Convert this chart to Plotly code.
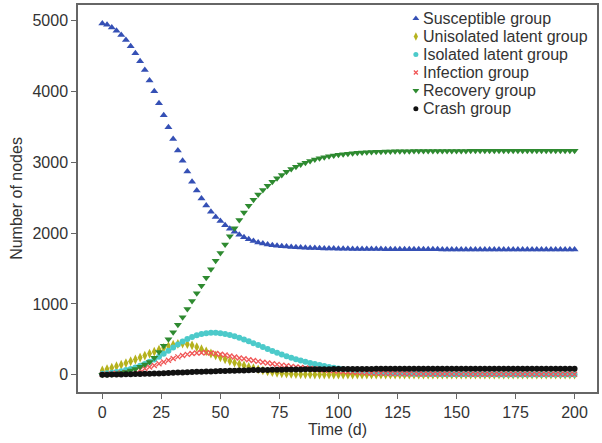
import plotly.graph_objects as go

t = list(range(0, 201, 2))

susceptible = [
    4960, 4942, 4904, 4858, 4797, 4727, 4637, 4538, 4426, 4304,
    4154, 4003, 3834, 3665, 3496, 3327, 3168, 3020, 2870, 2725,
    2600, 2488, 2390, 2300, 2228, 2170, 2112, 2063, 2018, 1975,
    1940, 1912, 1888, 1868, 1852, 1840, 1830, 1822, 1815, 1809,
    1804, 1800, 1796, 1793, 1790, 1788, 1786, 1784, 1782, 1781,
    1780, 1779, 1778, 1777, 1776, 1776, 1775, 1775, 1774, 1774,
    1773, 1773, 1773, 1772, 1772, 1772, 1772, 1771, 1771, 1771,
    1771, 1771, 1770, 1770, 1770, 1770, 1770, 1770, 1770, 1770,
    1770, 1769, 1769, 1769, 1769, 1769, 1769, 1769, 1769, 1769,
    1769, 1769, 1769, 1769, 1769, 1769, 1769, 1769, 1769, 1769,
    1769,
]

unisolated = [
    60, 80, 100, 120, 142, 165, 190, 215, 242, 270,
    298, 326, 354, 380, 405, 425, 437, 440, 432, 415,
    390, 360, 330, 300, 272, 245, 218, 193, 170, 150,
    130, 110, 92, 75, 60, 47, 36, 27, 20, 15,
    11, 8, 6, 5, 4, 3, 2, 2, 1, 1,
    1, 1, 0, 0, 0, 0, 0, 0, 0, 0,
    0, 0, 0, 0, 0, 0, 0, 0, 0, 0,
    0, 0, 0, 0, 0, 0, 0, 0, 0, 0,
    0, 0, 0, 0, 0, 0, 0, 0, 0, 0,
    0, 0, 0, 0, 0, 0, 0, 0, 0, 0,
    0,
]

isolated = [
    15, 20, 28, 38, 50, 65, 82, 102, 125, 152,
    182, 216, 254, 296, 340, 385, 428, 468, 503, 533,
    557, 575, 587, 593, 592, 586, 575, 560, 542, 521,
    498, 472, 445, 418, 390, 362, 336, 310, 286, 262,
    240, 220, 200, 182, 166, 150, 136, 122, 110, 98,
    88, 78, 70, 62, 55, 49, 44, 39, 35, 31,
    28, 25, 22, 20, 18, 16, 15, 13, 12, 11,
    10, 9, 8, 8, 7, 7, 6, 6, 6, 5,
    5, 5, 5, 5, 4, 4, 4, 4, 4, 4,
    4, 4, 4, 4, 4, 4, 4, 4, 4, 4,
    4,
]

infection = [
    5, 8, 12, 17, 24, 32, 42, 55, 70, 88,
    108, 130, 154, 180, 205, 230, 252, 271, 287, 299,
    307, 311, 311, 307, 300, 290, 278, 264, 250, 237,
    225, 212, 200, 188, 177, 166, 156, 146, 136, 127,
    118, 110, 102, 94, 87, 80, 73, 67, 61, 56,
    51, 46, 42, 38, 34, 31, 28, 25, 23, 21,
    19, 17, 16, 15, 14, 13, 12, 11, 11, 10,
    10, 9, 9, 9, 8, 8, 8, 8, 7, 7,
    7, 7, 7, 7, 7, 6, 6, 6, 6, 6,
    6, 6, 6, 6, 6, 6, 6, 6, 6, 6,
    6,
]

recovery = [
    0, 3, 8, 15, 25, 40, 58, 82, 112, 145,
    180, 240, 320, 410, 500, 600, 705, 812, 928, 1040,
    1150, 1255, 1370, 1490, 1610, 1720, 1840, 1955, 2070, 2185,
    2290, 2385, 2470, 2545, 2610, 2670, 2725, 2775, 2822, 2865,
    2905, 2938, 2968, 2995, 3018, 3038, 3056, 3071, 3085, 3097,
    3107, 3115, 3122, 3128, 3133, 3137, 3141, 3144, 3147, 3149,
    3151, 3153, 3154, 3155, 3156, 3157, 3158, 3158, 3159, 3159,
    3160, 3160, 3160, 3161, 3161, 3161, 3161, 3161, 3162, 3162,
    3162, 3162, 3162, 3162, 3162, 3162, 3162, 3162, 3162, 3162,
    3162, 3162, 3162, 3162, 3162, 3162, 3162, 3162, 3162, 3162,
    3162,
]

crash = [
    0, 1, 2, 3, 4, 5, 7, 9, 11, 13,
    15, 17, 19, 21, 24, 27, 30, 33, 36, 39,
    41, 43, 45, 47, 49, 51, 53, 55, 57, 59,
    61, 63, 65, 66, 67, 68, 69, 70, 71, 72,
    73, 74, 75, 76, 77, 78, 78, 79, 79, 80,
    80, 81, 81, 81, 82, 82, 82, 82, 83, 83,
    83, 83, 83, 83, 84, 84, 84, 84, 84, 84,
    84, 84, 84, 84, 84, 84, 84, 84, 84, 84,
    84, 84, 84, 84, 84, 84, 84, 84, 84, 84,
    84, 84, 84, 84, 84, 84, 84, 84, 84, 84,
    84,
]

x_ticks = [0, 25, 50, 75, 100, 125, 150, 175, 200]
y_ticks = [0, 1000, 2000, 3000, 4000, 5000]

series_names = ["Susceptible group", "Unisolated latent group", "Isolated latent group",
                "Infection group", "Recovery group", "Crash group"]
series_values = [susceptible, unisolated, isolated, infection, recovery, crash]
symbols = ["triangle-up", "diamond-tall", "circle", "x-thin-open", "triangle-down", "circle"]
colors = ["#3550b5", "#b5b21e", "#4ccaca", "#f05555", "#2e8a30", "#111111"]
sizes = [7, 7, 6, 5, 7, 6]

FONT = "Liberation Sans, Arial, sans-serif"
TXT = "#333333"
AX = "#666666"

fig = go.Figure()
for name, vals, sym, col, sz in zip(series_names, series_values, symbols, colors, sizes):
    fig.add_trace(go.Scatter(
        x=t, y=vals, mode="markers", name=name, showlegend=False,
        marker=dict(symbol=sym, color=col, size=sz,
                    line=dict(width=1.3 if "x" in sym else 0, color=col)),
    ))

# compact legend drawn on an invisible overlay axis (legend keys only)
key_x = 0.651
text_x = 0.663
row_top = 0.9652
row_step = 0.0466
for i, (name, sym, col, sz) in enumerate(zip(series_names, symbols, colors, sizes)):
    yk = row_top - i * row_step
    fig.add_trace(go.Scatter(
        x=[key_x], y=[yk], xaxis="x2", yaxis="y2", mode="markers",
        showlegend=False, hoverinfo="skip",
        marker=dict(symbol=sym, color=col, size=sz - 1,
                    line=dict(width=1.3 if "x" in sym else 0, color=col)),
    ))
    fig.add_annotation(x=text_x, y=yk, xref="x2", yref="y2", text=name,
                       showarrow=False, xanchor="left", yanchor="middle",
                       borderpad=0, font=dict(size=16, color=TXT))

fig.update_layout(
    width=602, height=443,
    margin=dict(l=78, r=3, t=4, b=51),
    plot_bgcolor="white", paper_bgcolor="white",
    font=dict(family=FONT, size=16, color=TXT),
    showlegend=False,
    xaxis=dict(
        range=[-10.3, 209.5], tickvals=x_ticks, ticks="outside", ticklen=5,
        tickcolor=AX, showline=True, linecolor=AX, linewidth=1.5, mirror=True,
        showgrid=False, zeroline=False,
        title=dict(text="Time (d)", standoff=3, font=dict(size=16)),
        tickfont=dict(size=16),
    ),
    yaxis=dict(
        range=[-244, 5221], tickvals=y_ticks, ticks="outside", ticklen=5,
        tickcolor=AX, showline=True, linecolor=AX, linewidth=1.5, mirror=True,
        showgrid=False, zeroline=False,
        title=dict(text="Number of nodes", standoff=6, font=dict(size=16)),
        tickfont=dict(size=16),
    ),
    xaxis2=dict(overlaying="x", range=[0, 1], visible=False, fixedrange=True),
    yaxis2=dict(overlaying="y", range=[0, 1], visible=False, fixedrange=True),
)

fig.write_html("out.html")
